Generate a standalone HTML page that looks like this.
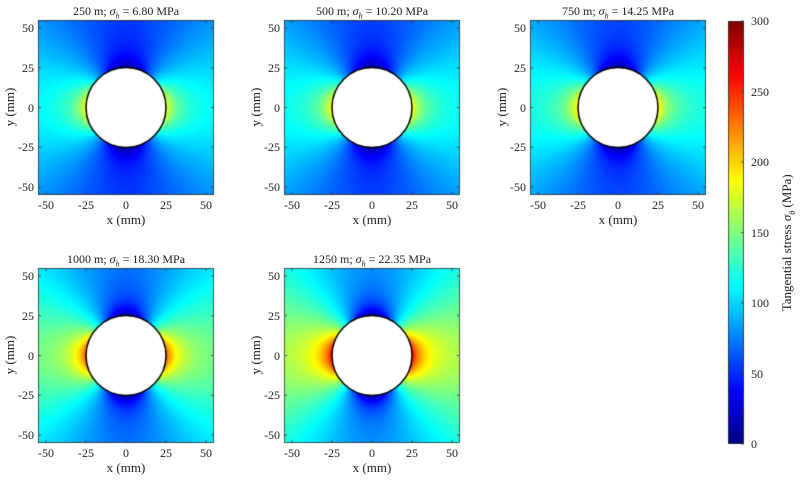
<!DOCTYPE html>
<html><head><meta charset="utf-8"><style>
body{margin:0;width:800px;height:481px;background:#fff;overflow:hidden;position:relative;font-family:"Liberation Serif",serif;color:#222}
canvas{position:absolute;left:0;top:0}
.t{position:absolute;font-size:12px;white-space:nowrap;line-height:12px}
</style></head><body>
<canvas id="c" width="800" height="481"></canvas>
<div id="txt"></div>
<script>
const ctx=document.getElementById('c').getContext('2d');
function jet(v){v=Math.max(0,Math.min(1,v));
 const r=Math.max(0,Math.min(1,1.5-Math.abs(4*v-3))),g=Math.max(0,Math.min(1,1.5-Math.abs(4*v-2))),b=Math.max(0,Math.min(1,1.5-Math.abs(4*v-1)));
 return [r*255|0,g*255|0,b*255|0];}
const panels=[
 {x:38,y:20,S:80,D:15,B:22.5,t:'250 m; <i>σ<sub style="font-size:8px">h</sub></i> = 6.80 MPa'},
 {x:284,y:20,S:83,D:14,B:23,t:'500 m; <i>σ<sub style="font-size:8px">h</sub></i> = 10.20 MPa'},
 {x:530,y:20,S:86,D:14,B:23.75,t:'750 m; <i>σ<sub style="font-size:8px">h</sub></i> = 14.25 MPa'},
 {x:38,y:268,S:105,D:17.5,B:29.4,t:'1000 m; <i>σ<sub style="font-size:8px">h</sub></i> = 18.30 MPa'},
 {x:284,y:268,S:118,D:17,B:32.5,t:'1250 m; <i>σ<sub style="font-size:8px">h</sub></i> = 22.35 MPa'}];
const W=176,H=175,a=25;
let html='';
panels.forEach(p=>{
 const img=ctx.createImageData(W,H);
 for(let j=0;j<H;j++)for(let i=0;i<W;i++){
  const x=-55+110*(i+0.5)/W,y=55-110*(j+0.5)/H,r2=x*x+y*y;
  const k=(j*W+i)*4;
  if(r2<a*a){img.data[k]=img.data[k+1]=img.data[k+2]=255;img.data[k+3]=255;continue;}
  const c2=(x*x-y*y)/r2,q=a*a/r2;
  const s=p.S+p.D*q+p.B*(1+q+2*q*q)*c2;
  const col=jet(s/300);
  img.data[k]=col[0];img.data[k+1]=col[1];img.data[k+2]=col[2];img.data[k+3]=255;}
 ctx.putImageData(img,p.x,p.y);
 const cx=p.x+W/2,cy=p.y+H/2;
 ctx.beginPath();ctx.arc(cx,cy,a*W/110,0,2*Math.PI);ctx.lineWidth=1.5;ctx.strokeStyle='#000';ctx.stroke();
 ctx.lineWidth=0.8;ctx.strokeStyle='#333';ctx.strokeRect(p.x+0.5,p.y+0.5,W-1,H-1);
 [-50,-25,0,25,50].forEach(v=>{
  const tx=p.x+(v+55)/110*W, ty=p.y+(55-v)/110*H;
  ctx.beginPath();ctx.moveTo(tx,p.y+H);ctx.lineTo(tx,p.y+H-3);ctx.moveTo(tx,p.y);ctx.lineTo(tx,p.y+3);
  ctx.moveTo(p.x,ty);ctx.lineTo(p.x+3,ty);ctx.moveTo(p.x+W,ty);ctx.lineTo(p.x+W-3,ty);ctx.stroke();
  html+=`<div class="t" style="left:${tx-15}px;width:30px;text-align:center;top:${p.y+H+4}px">${v}</div>`;
  html+=`<div class="t" style="left:${p.x-34}px;width:30px;text-align:right;top:${ty-6}px">${v}</div>`;
 });
 html+=`<div class="t" style="left:${cx-60}px;width:120px;text-align:center;top:${p.y+H+19}px;font-size:13px">x (mm)</div>`;
 html+=`<div class="t" style="left:${p.x-68}px;width:80px;text-align:center;top:${cy-7}px;font-size:13px;transform:rotate(-90deg)">y (mm)</div>`;
 html+=`<div class="t" style="left:${cx-100}px;width:200px;text-align:center;top:${p.y-15}px">${p.t}</div>`;
});
const bx=728,by=21,bw=16,bh=423;
for(let j=0;j<bh;j++){const c=jet(1-j/bh);ctx.fillStyle=`rgb(${c[0]},${c[1]},${c[2]})`;ctx.fillRect(bx,by+j,bw,1);}
ctx.lineWidth=0.8;ctx.strokeStyle='#333';ctx.strokeRect(bx+0.5,by+0.5,bw-1,bh-1);
for(let v=0;v<=300;v+=50){const ty=by+bh-v/300*bh;
 ctx.beginPath();ctx.moveTo(bx+bw,ty);ctx.lineTo(bx+bw-3,ty);ctx.stroke();
 html+=`<div class="t" style="left:751px;top:${ty-6}px">${v}</div>`;}
html+=`<div class="t" style="left:690px;width:200px;text-align:center;top:234px;font-size:13px;transform:rotate(-90deg)">Tangential stress <i>σ<sub style="font-size:8px">θ</sub></i> (MPa)</div>`;
document.getElementById('txt').innerHTML=html;
</script>
</body></html>
